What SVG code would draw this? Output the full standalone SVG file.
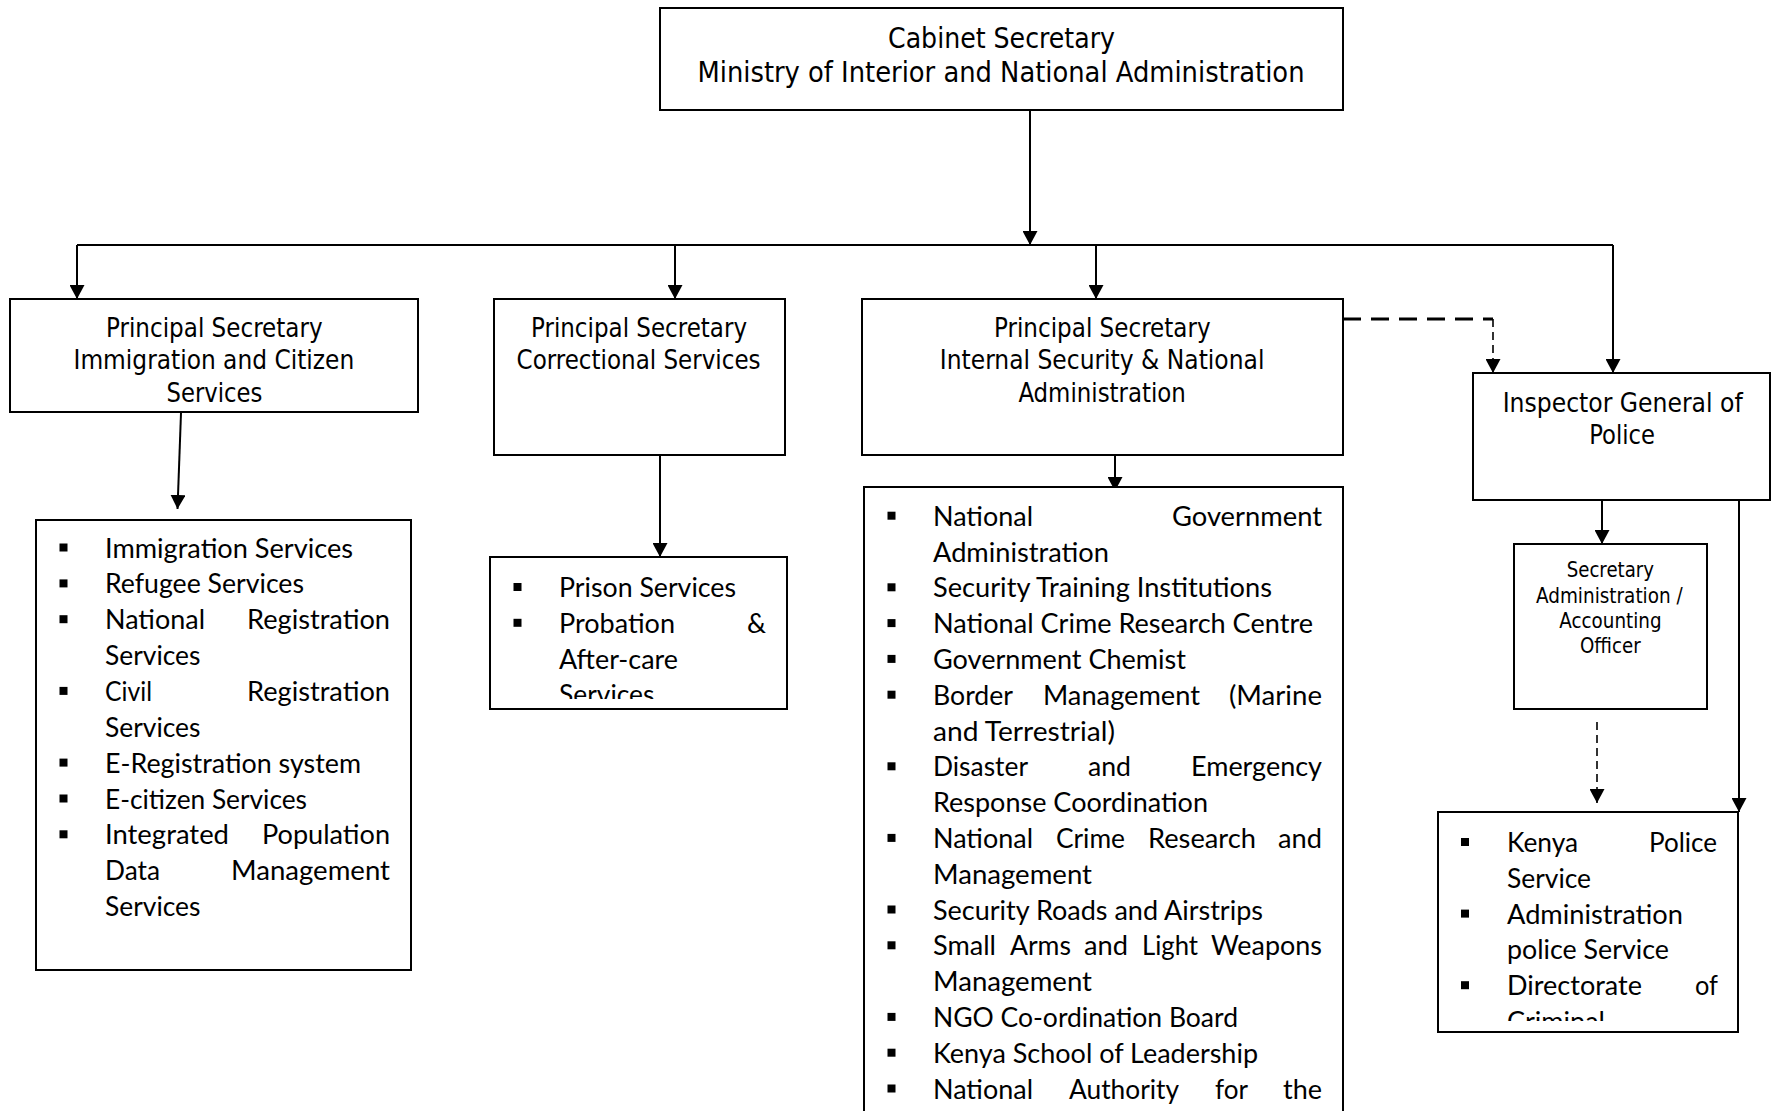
<svg xmlns="http://www.w3.org/2000/svg" width="1773" height="1111" viewBox="0 0 1773 1111">
<style>
.box{fill:#fff;stroke:#000;stroke-width:2}
.hd{font-family:"DejaVu Sans Condensed","DejaVu Sans",Tahoma,sans-serif;font-size:26.7px;fill:#000}
.hs{font-size:21.3px}
.ht{font-size:28px}
.li{font-family:Lato,"Open Sans",sans-serif;font-size:27px;fill:#000}
.bl{fill:#000}
.ln{fill:none;stroke:#000;stroke-width:2}
.dh{fill:none;stroke:#000;stroke-width:2.8;stroke-dasharray:18 10}
.dv{fill:none;stroke:#000;stroke-width:1.6;stroke-dasharray:8 5}
</style>
<defs>
<marker id="ah" markerWidth="14" markerHeight="15" viewBox="0 0 14 15" refX="14" refY="7.5" orient="auto" markerUnits="userSpaceOnUse"><path d="M0,0 L14,7.5 L0,15 z" fill="#000"/></marker>
<clipPath id="clipCorr"><rect x="490" y="557" width="297" height="142"/></clipPath>
<clipPath id="clipPol"><rect x="1438" y="812" width="300" height="209"/></clipPath>
</defs>
<rect width="1773" height="1111" fill="#fff"/>

<g id="connectors">
<line class="ln" x1="1030" y1="110" x2="1030" y2="245" marker-end="url(#ah)"/>
<line class="ln" x1="77" y1="245" x2="1613" y2="245"/>
<line class="ln" x1="77" y1="245" x2="77" y2="299" marker-end="url(#ah)"/>
<line class="ln" x1="675" y1="245" x2="675" y2="299" marker-end="url(#ah)"/>
<line class="ln" x1="1096" y1="245" x2="1096" y2="299" marker-end="url(#ah)"/>
<line class="ln" x1="1613" y1="245" x2="1613" y2="373" marker-end="url(#ah)"/>
<line class="ln" x1="181" y1="413" x2="177.5" y2="509" marker-end="url(#ah)"/>
<line class="ln" x1="660" y1="455" x2="660" y2="557" marker-end="url(#ah)"/>
<line class="ln" x1="1115" y1="455" x2="1115" y2="491" marker-end="url(#ah)"/>
<path class="dh" d="M1343,319 H1493"/>
<line class="dv" x1="1493" y1="319" x2="1493" y2="373" marker-end="url(#ah)"/>
<line class="ln" x1="1602" y1="500" x2="1602" y2="544" marker-end="url(#ah)"/>
<line class="dv" x1="1597" y1="722" x2="1597" y2="803" marker-end="url(#ah)"/>
<line class="ln" x1="1739" y1="500" x2="1739" y2="812" marker-end="url(#ah)"/>
</g>

<g id="cabinet-secretary">
<rect class="box" x="660" y="8" width="683" height="102"/>
<text class="hd ht" x="888" y="48.3" textLength="227" lengthAdjust="spacingAndGlyphs">Cabinet Secretary</text>
<text class="hd ht" x="697.5" y="81.7" textLength="607" lengthAdjust="spacingAndGlyphs">Ministry of Interior and National Administration</text>
</g>

<g id="ps-immigration">
<rect class="box" x="10" y="299" width="408" height="113"/>
<text class="hd" x="106" y="337" textLength="216.6" lengthAdjust="spacingAndGlyphs">Principal Secretary</text>
<text class="hd" x="73.5" y="369" textLength="280.7" lengthAdjust="spacingAndGlyphs">Immigration and Citizen</text>
<text class="hd" x="166.5" y="401.5" textLength="95.8" lengthAdjust="spacingAndGlyphs">Services</text>
</g>

<g id="ps-correctional">
<rect class="box" x="494" y="299" width="291" height="156"/>
<text class="hd" x="531" y="337" textLength="216" lengthAdjust="spacingAndGlyphs">Principal Secretary</text>
<text class="hd" x="516.6" y="369" textLength="244" lengthAdjust="spacingAndGlyphs">Correctional Services</text>
</g>

<g id="ps-internal-security">
<rect class="box" x="862" y="299" width="481" height="156"/>
<text class="hd" x="994" y="337" textLength="216.6" lengthAdjust="spacingAndGlyphs">Principal Secretary</text>
<text class="hd" x="939.8" y="369" textLength="324.6" lengthAdjust="spacingAndGlyphs">Internal Security &amp; National</text>
<text class="hd" x="1018.4" y="401.5" textLength="167.4" lengthAdjust="spacingAndGlyphs">Administration</text>
</g>

<g id="inspector-general">
<rect class="box" x="1473" y="373" width="297" height="127"/>
<text class="hd" x="1502.7" y="411.7" textLength="240" lengthAdjust="spacingAndGlyphs">Inspector General of</text>
<text class="hd" x="1589.3" y="444" textLength="65.7" lengthAdjust="spacingAndGlyphs">Police</text>
</g>

<g id="secretary-admin">
<rect class="box" x="1514" y="544" width="193" height="165"/>
<text class="hd hs" x="1566.7" y="577" textLength="87.3" lengthAdjust="spacingAndGlyphs">Secretary</text>
<text class="hd hs" x="1536" y="602.5" textLength="146.7" lengthAdjust="spacingAndGlyphs">Administration /</text>
<text class="hd hs" x="1559.3" y="628" textLength="102.3" lengthAdjust="spacingAndGlyphs">Accounting</text>
<text class="hd hs" x="1580" y="653.3" textLength="60.7" lengthAdjust="spacingAndGlyphs">Officer</text>
</g>

<g id="list-immigration">
<rect class="box" x="36" y="520" width="375" height="450"/>
<rect class="bl" x="59.5" y="543.5" width="8" height="8"/>
<rect class="bl" x="59.5" y="579.4" width="8" height="8"/>
<rect class="bl" x="59.5" y="615.2" width="8" height="8"/>
<rect class="bl" x="59.5" y="686.9" width="8" height="8"/>
<rect class="bl" x="59.5" y="758.6" width="8" height="8"/>
<rect class="bl" x="59.5" y="794.5" width="8" height="8"/>
<rect class="bl" x="59.5" y="830.3" width="8" height="8"/>
<text class="li" x="105" y="557.5" textLength="248" lengthAdjust="spacingAndGlyphs">Immigration Services</text>
<text class="li" x="105" y="593.4" textLength="199" lengthAdjust="spacingAndGlyphs">Refugee Services</text>
<text class="li" x="105" y="629.2" textLength="100" lengthAdjust="spacingAndGlyphs">National</text>
<text class="li" x="247" y="629.2" textLength="143" lengthAdjust="spacingAndGlyphs">Registration</text>
<text class="li" x="105" y="665.1" textLength="95.5" lengthAdjust="spacingAndGlyphs">Services</text>
<text class="li" x="105" y="700.9" textLength="47" lengthAdjust="spacingAndGlyphs">Civil</text>
<text class="li" x="247" y="700.9" textLength="143" lengthAdjust="spacingAndGlyphs">Registration</text>
<text class="li" x="105" y="736.8" textLength="95.5" lengthAdjust="spacingAndGlyphs">Services</text>
<text class="li" x="105" y="772.6" textLength="256" lengthAdjust="spacingAndGlyphs">E-Registration system</text>
<text class="li" x="105" y="808.5" textLength="202" lengthAdjust="spacingAndGlyphs">E-citizen Services</text>
<text class="li" x="105" y="844.3" textLength="124" lengthAdjust="spacingAndGlyphs">Integrated</text>
<text class="li" x="262" y="844.3" textLength="128" lengthAdjust="spacingAndGlyphs">Population</text>
<text class="li" x="105" y="880.2" textLength="55" lengthAdjust="spacingAndGlyphs">Data</text>
<text class="li" x="231" y="880.2" textLength="159" lengthAdjust="spacingAndGlyphs">Management</text>
<text class="li" x="105" y="916" textLength="95.5" lengthAdjust="spacingAndGlyphs">Services</text>
</g>

<g id="list-correctional">
<rect class="box" x="490" y="557" width="297" height="152"/>
<rect class="bl" x="513.5" y="583" width="8" height="8"/>
<rect class="bl" x="513.5" y="618.8" width="8" height="8"/>
<g clip-path="url(#clipCorr)">
<text class="li" x="559" y="597" textLength="177" lengthAdjust="spacingAndGlyphs">Prison Services</text>
<text class="li" x="559" y="632.8" textLength="116" lengthAdjust="spacingAndGlyphs">Probation</text>
<text class="li" x="747" y="632.8" textLength="19" lengthAdjust="spacingAndGlyphs">&amp;</text>
<text class="li" x="559" y="668.6" textLength="119" lengthAdjust="spacingAndGlyphs">After-care</text>
<text class="li" x="559" y="704.4" textLength="95.5" lengthAdjust="spacingAndGlyphs">Services</text>
</g>
</g>

<g id="list-internal-security">
<rect class="box" x="864" y="487" width="479" height="660"/>
<rect class="bl" x="887.5" y="511.7" width="8" height="8"/>
<rect class="bl" x="887.5" y="583.3" width="8" height="8"/>
<rect class="bl" x="887.5" y="619.1" width="8" height="8"/>
<rect class="bl" x="887.5" y="654.9" width="8" height="8"/>
<rect class="bl" x="887.5" y="690.7" width="8" height="8"/>
<rect class="bl" x="887.5" y="762.3" width="8" height="8"/>
<rect class="bl" x="887.5" y="833.9" width="8" height="8"/>
<rect class="bl" x="887.5" y="905.5" width="8" height="8"/>
<rect class="bl" x="887.5" y="941.3" width="8" height="8"/>
<rect class="bl" x="887.5" y="1012.9" width="8" height="8"/>
<rect class="bl" x="887.5" y="1048.7" width="8" height="8"/>
<rect class="bl" x="887.5" y="1084.5" width="8" height="8"/>
<text class="li" x="933" y="525.7" textLength="100" lengthAdjust="spacingAndGlyphs">National</text>
<text class="li" x="1172" y="525.7" textLength="150" lengthAdjust="spacingAndGlyphs">Government</text>
<text class="li" x="933" y="561.5" textLength="176" lengthAdjust="spacingAndGlyphs">Administration</text>
<text class="li" x="933" y="597.3" textLength="339" lengthAdjust="spacingAndGlyphs">Security Training Institutions</text>
<text class="li" x="933" y="633.1" textLength="380" lengthAdjust="spacingAndGlyphs">National Crime Research Centre</text>
<text class="li" x="933" y="668.9" textLength="253" lengthAdjust="spacingAndGlyphs">Government Chemist</text>
<text class="li" x="933" y="704.7" textLength="80" lengthAdjust="spacingAndGlyphs">Border</text>
<text class="li" x="1043" y="704.7" textLength="157" lengthAdjust="spacingAndGlyphs">Management</text>
<text class="li" x="1229" y="704.7" textLength="93" lengthAdjust="spacingAndGlyphs">(Marine</text>
<text class="li" x="933" y="740.5" textLength="182" lengthAdjust="spacingAndGlyphs">and Terrestrial)</text>
<text class="li" x="933" y="776.3" textLength="95" lengthAdjust="spacingAndGlyphs">Disaster</text>
<text class="li" x="1088" y="776.3" textLength="43" lengthAdjust="spacingAndGlyphs">and</text>
<text class="li" x="1191" y="776.3" textLength="131" lengthAdjust="spacingAndGlyphs">Emergency</text>
<text class="li" x="933" y="812.1" textLength="275" lengthAdjust="spacingAndGlyphs">Response Coordination</text>
<text class="li" x="933" y="847.9" textLength="100" lengthAdjust="spacingAndGlyphs">National</text>
<text class="li" x="1056" y="847.9" textLength="69" lengthAdjust="spacingAndGlyphs">Crime</text>
<text class="li" x="1148" y="847.9" textLength="108" lengthAdjust="spacingAndGlyphs">Research</text>
<text class="li" x="1278" y="847.9" textLength="44" lengthAdjust="spacingAndGlyphs">and</text>
<text class="li" x="933" y="883.7" textLength="159" lengthAdjust="spacingAndGlyphs">Management</text>
<text class="li" x="933" y="919.5" textLength="330" lengthAdjust="spacingAndGlyphs">Security Roads and Airstrips</text>
<text class="li" x="933" y="955.3" textLength="63" lengthAdjust="spacingAndGlyphs">Small</text>
<text class="li" x="1010" y="955.3" textLength="61" lengthAdjust="spacingAndGlyphs">Arms</text>
<text class="li" x="1084" y="955.3" textLength="44" lengthAdjust="spacingAndGlyphs">and</text>
<text class="li" x="1142" y="955.3" textLength="56" lengthAdjust="spacingAndGlyphs">Light</text>
<text class="li" x="1211" y="955.3" textLength="111" lengthAdjust="spacingAndGlyphs">Weapons</text>
<text class="li" x="933" y="991.1" textLength="159" lengthAdjust="spacingAndGlyphs">Management</text>
<text class="li" x="933" y="1026.9" textLength="305" lengthAdjust="spacingAndGlyphs">NGO Co-ordination Board</text>
<text class="li" x="933" y="1062.7" textLength="325" lengthAdjust="spacingAndGlyphs">Kenya School of Leadership</text>
<text class="li" x="933" y="1098.5" textLength="100" lengthAdjust="spacingAndGlyphs">National</text>
<text class="li" x="1069" y="1098.5" textLength="110" lengthAdjust="spacingAndGlyphs">Authority</text>
<text class="li" x="1215" y="1098.5" textLength="33" lengthAdjust="spacingAndGlyphs">for</text>
<text class="li" x="1283" y="1098.5" textLength="39" lengthAdjust="spacingAndGlyphs">the</text>
</g>

<g id="list-police">
<rect class="box" x="1438" y="812" width="300" height="220"/>
<rect class="bl" x="1461" y="838" width="8" height="8"/>
<rect class="bl" x="1461" y="909.6" width="8" height="8"/>
<rect class="bl" x="1461" y="981.2" width="8" height="8"/>
<g clip-path="url(#clipPol)">
<text class="li" x="1507" y="852" textLength="71" lengthAdjust="spacingAndGlyphs">Kenya</text>
<text class="li" x="1649" y="852" textLength="68" lengthAdjust="spacingAndGlyphs">Police</text>
<text class="li" x="1507" y="887.8" textLength="84" lengthAdjust="spacingAndGlyphs">Service</text>
<text class="li" x="1507" y="923.6" textLength="176" lengthAdjust="spacingAndGlyphs">Administration</text>
<text class="li" x="1507" y="959.4" textLength="162" lengthAdjust="spacingAndGlyphs">police Service</text>
<text class="li" x="1507" y="995.2" textLength="135" lengthAdjust="spacingAndGlyphs">Directorate</text>
<text class="li" x="1695" y="995.2" textLength="23" lengthAdjust="spacingAndGlyphs">of</text>
<text class="li" x="1507" y="1031" textLength="98" lengthAdjust="spacingAndGlyphs">Criminal</text>
</g>
</g>
</svg>
